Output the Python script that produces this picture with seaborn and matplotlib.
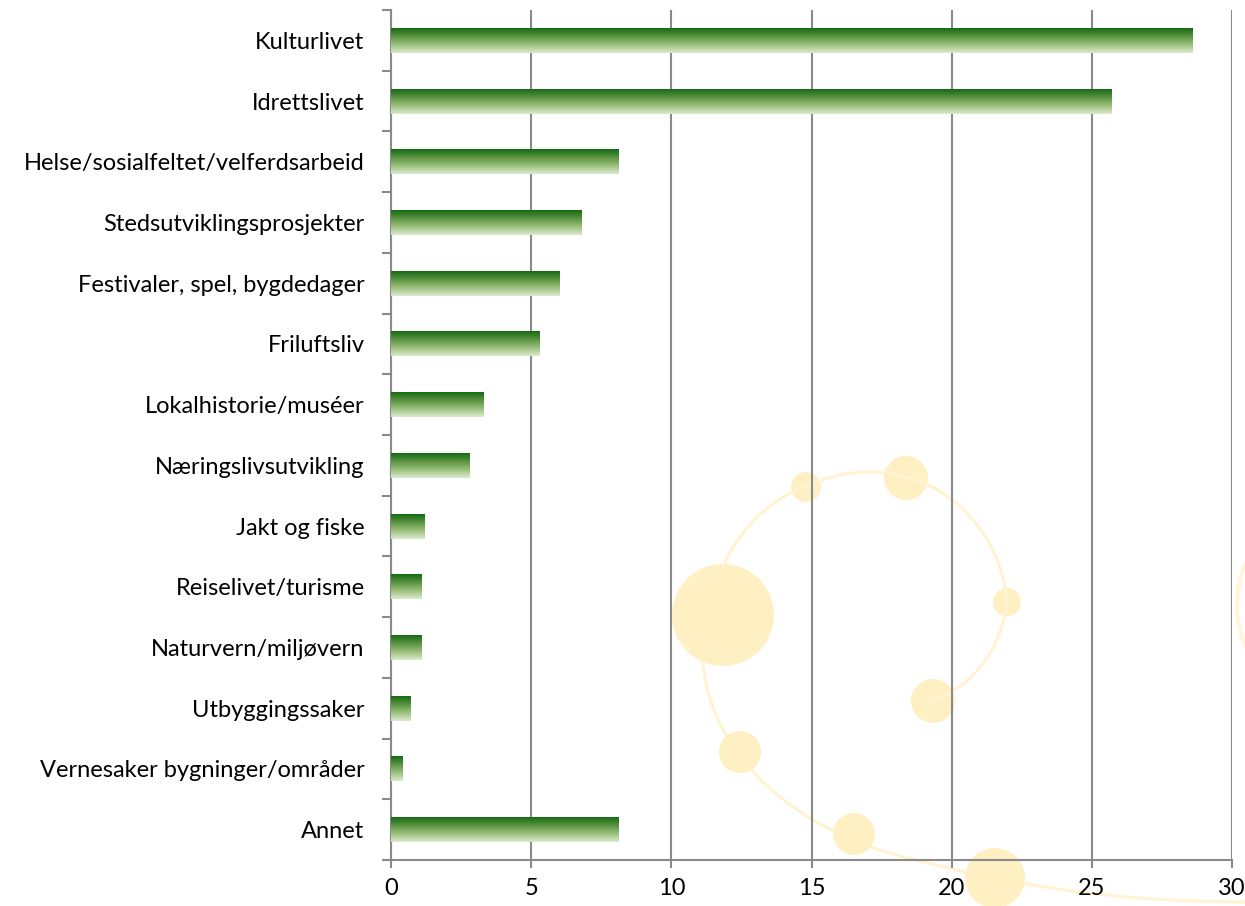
import numpy as np
import pandas as pd
import matplotlib
matplotlib.use("Agg")
import matplotlib.pyplot as plt
import seaborn as sns
from matplotlib.patches import Circle, PathPatch
from matplotlib.path import Path
from matplotlib.colors import LinearSegmentedColormap

# data
categories = [
    "Kulturlivet",
    "Idrettslivet",
    "Helse/sosialfeltet/velferdsarbeid",
    "Stedsutviklingsprosjekter",
    "Festivaler, spel, bygdedager",
    "Friluftsliv",
    "Lokalhistorie/muséer",
    "Næringslivsutvikling",
    "Jakt og fiske",
    "Reiselivet/turisme",
    "Naturvern/miljøvern",
    "Utbyggingssaker",
    "Vernesaker bygninger/områder",
    "Annet",
]
values = [28.6, 25.7, 8.1, 6.8, 6.0, 5.3, 3.3, 2.8, 1.2, 1.1, 1.1, 0.7, 0.4, 8.1]
x_ticks = [0, 5, 10, 15, 20, 25, 30]

df = pd.DataFrame({"kategori": categories, "andel": values})

sns.set_theme(style="white")
plt.rcParams["font.family"] = ["Lato", "DejaVu Sans"]

W, H = 1245, 906
fig = plt.figure(figsize=(W / 100, H / 100), dpi=100)

# pale watermark in the background (pixel coordinates)
bg = fig.add_axes([0, 0, 1, 1], zorder=0)
bg.set_xlim(0, W)
bg.set_ylim(H, 0)
bg.axis("off")
wm = "#fff0c4"
wm_line = "#fff3d2"

ang = np.radians(np.linspace(200, 411, 300))
rad = np.interp(np.degrees(ang), [200, 250, 270, 300, 353, 380, 411],
                [153, 146, 147, 147, 141, 125, 105])
bg.plot(867 + rad * np.cos(ang), 619 + rad * np.sin(ang), color=wm_line, lw=2.2)

swoosh = Path([(703, 663), (712, 760), (800, 830), (900, 856),
               (1000, 882), (1100, 902), (1250, 902)],
              [Path.MOVETO, Path.CURVE4, Path.CURVE4, Path.CURVE4,
               Path.CURVE4, Path.CURVE4, Path.CURVE4])
bg.add_patch(PathPatch(swoosh, fill=False, edgecolor=wm_line, lw=2.2))

a2 = np.radians(np.linspace(150, 210, 60))
bg.plot(1340 + 103 * np.cos(a2), 605 + 103 * np.sin(a2), color=wm_line, lw=3, alpha=0.8)

for cx, cy, r in [(723, 615, 51), (806, 487, 15), (906, 478, 22), (1007, 602, 14),
                  (933, 701, 22), (740, 752, 21), (854, 834, 21), (995, 878, 30)]:
    bg.add_patch(Circle((cx, cy), r, color=wm, lw=0))

# main chart
ax = fig.add_axes([391 / W, 46 / H, 841 / W, 850 / H], zorder=1)
ax.set_facecolor("none")
sns.barplot(data=df, x="andel", y="kategori", orient="h", width=0.41,
            color="#4a8a3a", ax=ax, zorder=3)

cmap = LinearSegmentedColormap.from_list(
    "gr", ["#146a14", "#5a9340", "#9cc07c", "#dcebd0"])
grad = np.linspace(0, 1, 256).reshape(-1, 1)
for p in ax.patches:
    x0, y0 = p.get_x(), p.get_y()
    w, h = p.get_width(), p.get_height()
    p.set_facecolor("none")
    p.set_edgecolor("none")
    im = ax.imshow(grad, cmap=cmap, aspect="auto", origin="upper",
                   extent=[x0, x0 + w, y0 + h, y0], zorder=3)
    im.set_clip_path(p)

ax.set_xlim(0, 30)
ax.set_ylim(len(categories) - 0.5, -0.5)
ax.set_xticks(x_ticks)
ax.set_xticklabels([str(t) for t in x_ticks])
ax.set_yticks(np.arange(-0.5, len(categories), 1.0), minor=True)
ax.set_xlabel("")
ax.set_ylabel("")

gray = "#8a8a8a"
ax.grid(axis="x", color=gray, lw=1.5, zorder=1)
ax.set_axisbelow(True)
for s in ["top", "right"]:
    ax.spines[s].set_visible(False)
for s in ["left", "bottom"]:
    ax.spines[s].set_color(gray)
    ax.spines[s].set_linewidth(1.5)

ax.tick_params(axis="y", which="major", length=0, pad=19, labelsize=17, labelcolor="black")
ax.tick_params(axis="y", which="minor", length=6.5, width=1.5, color=gray, left=True)
ax.tick_params(axis="x", which="major", length=6, width=1.5, color=gray, bottom=True,
               pad=7, labelsize=17, labelcolor="black")

fig.savefig("out.png", dpi=100)
